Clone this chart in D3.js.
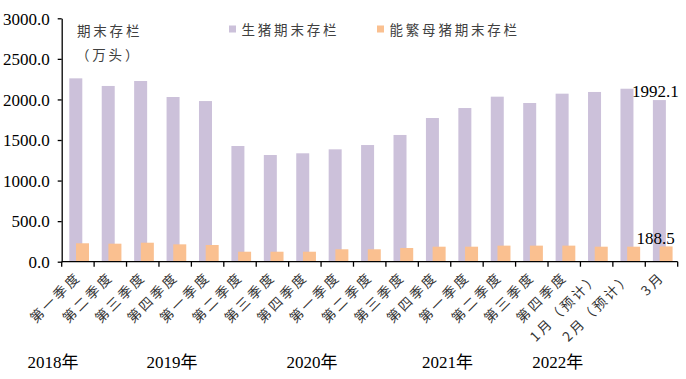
<!DOCTYPE html>
<html>
<head>
<meta charset="utf-8">
<script src="https://cdn.jsdelivr.net/npm/d3@7"></script>
<style>
  body { margin: 0; background: #fff; }
  svg { display: block; }
  .num { font-family: "Liberation Serif", "Times New Roman", "Noto Sans CJK SC", serif; font-size: 17px; fill: #000; }
  .cjk { font-family: "Noto Sans CJK SC", sans-serif; font-size: 13.5px; fill: #404040; letter-spacing: 2.8px; }
</style>
</head>
<body>
<div id="chart"></div>
<script>
// categories (x axis) and the two series
let categories = ["第一季度", "第二季度", "第三季度", "第四季度",
  "第一季度 ", "第二季度 ", "第三季度 ", "第四季度 ",
  "第一季度  ", "第二季度  ", "第三季度  ", "第四季度  ",
  "第一季度   ", "第二季度   ", "第三季度   ", "第四季度   ",
  "1月（预计）", "2月（预计）", "3月"];
let pigStock = [2260, 2166, 2227, 2030, 1980, 1426, 1315, 1336, 1385, 1438,
  1562, 1771, 1894, 2034, 1956, 2071, 2092, 2132, 1992.1];
let sowStock = [227, 222, 234, 214, 206, 123, 123, 123, 153, 153,
  169, 185, 185, 198, 198, 198, 185, 185, 188.5];
let seriesNames = ["生猪期末存栏", "能繁母猪期末存栏"];
let yTicks = [0, 500, 1000, 1500, 2000, 2500, 3000];
// year labels and where their centres sit, in category units from the left edge
let years = ["2018年", "2019年", "2020年", "2021年", "2022年"];
let yearPos = [-0.27, 3.4, 7.72, 11.9, 15.3];

const [w, h] = [686, 379];
const [padL, padR, padT, padB] = [61.7, 677.7, 18.3, 261.7];
const [purple, orange] = ["#CCC1DA", "#FAC090"];

const svg = d3.select("#chart").append("svg")
  .attr("width", w)
  .attr("height", h);

const x = d3.scaleBand().domain(categories).range([padL, padR]);
const y = d3.scaleLinear().domain([0, 3000]).range([padB, padT]);
const sub = d3.scalePoint().domain(seriesNames).range([7.6, 14.3]);
const barW = 13;

const rows = categories.map((c, i) => ({ cat: c, pig: pigStock[i], sow: sowStock[i] }));

// bars: purple first, orange on top
svg.append("g").selectAll("rect")
  .data(rows)
  .join("rect")
  .attr("x", d => x(d.cat) + sub(seriesNames[0]))
  .attr("y", d => y(d.pig))
  .attr("width", barW)
  .attr("height", d => y(0) - y(d.pig))
  .attr("fill", purple);

svg.append("g").selectAll("rect")
  .data(rows)
  .join("rect")
  .attr("x", d => x(d.cat) + sub(seriesNames[1]))
  .attr("y", d => y(d.sow))
  .attr("width", barW)
  .attr("height", d => y(0) - y(d.sow))
  .attr("fill", orange);

// y axis
const yAxis = d3.axisLeft(y).tickValues(yTicks).tickFormat(d3.format(".1f")).tickSize(4).tickSizeOuter(0);
const gy = svg.append("g")
  .attr("transform", `translate(${padL},0)`)
  .call(yAxis);
gy.select(".domain").attr("stroke", "#000").attr("stroke-width", 1.3);
gy.selectAll(".tick line").attr("stroke", "#000").attr("stroke-width", 1.3);
gy.selectAll(".tick text").attr("class", "num").attr("x", -12).attr("dy", "0.34em");

// x axis: line plus ticks at the category boundaries
const gx = svg.append("g");
gx.append("line")
  .attr("x1", padL).attr("x2", padR)
  .attr("y1", padB).attr("y2", padB)
  .attr("stroke", "#000").attr("stroke-width", 1.3);
gx.selectAll("line.tk")
  .data(d3.range(categories.length + 1))
  .join("line")
  .attr("class", "tk")
  .attr("x1", i => padL + i * x.bandwidth())
  .attr("x2", i => padL + i * x.bandwidth())
  .attr("y1", padB).attr("y2", padB + 5)
  .attr("stroke", "#000").attr("stroke-width", 1.3);

// rotated category labels
gx.selectAll("text")
  .data(categories)
  .join("text")
  .attr("class", "cjk")
  .style("fill", "#333")
  .attr("text-anchor", "end")
  .attr("transform", c => `translate(${x(c) + x.bandwidth() / 2 + 4},${padB + 16}) rotate(-45)`)
  .text(c => c.trim());

// year labels
svg.append("g").selectAll("text")
  .data(years)
  .join("text")
  .attr("class", "num")
  .attr("text-anchor", "middle")
  .attr("x", (d, i) => padL + yearPos[i] * x.bandwidth())
  .attr("y", 368)
  .text(d => d);

// value labels on the last category
const last = rows[rows.length - 1];
svg.append("text").attr("class", "num")
  .attr("text-anchor", "middle")
  .attr("x", x(last.cat) + sub(seriesNames[0]) + barW / 2 - 4)
  .attr("y", y(last.pig) - 3)
  .text(d3.format(".1f")(last.pig));
svg.append("text").attr("class", "num")
  .attr("text-anchor", "middle")
  .attr("x", x(last.cat) + sub(seriesNames[1]) - 4)
  .attr("y", y(last.sow) - 2)
  .text(d3.format(".1f")(last.sow));

// axis title
svg.append("text").attr("class", "cjk")
  .attr("x", 77).attr("y", 36)
  .text("期末存栏");
svg.append("text").attr("class", "cjk")
  .attr("x", 76).attr("y", 60)
  .text("（万头）");

// legend
const legendX = [229, 377];
const lg = svg.append("g").selectAll("g")
  .data(seriesNames)
  .join("g")
  .attr("transform", (d, i) => `translate(${legendX[i]},25.5)`);
lg.append("rect")
  .attr("width", 7).attr("height", 7)
  .attr("fill", (d, i) => [purple, orange][i]);
lg.append("text")
  .attr("class", "cjk")
  .attr("x", 12.5).attr("y", 9)
  .text(d => d);
</script>
</body>
</html>
